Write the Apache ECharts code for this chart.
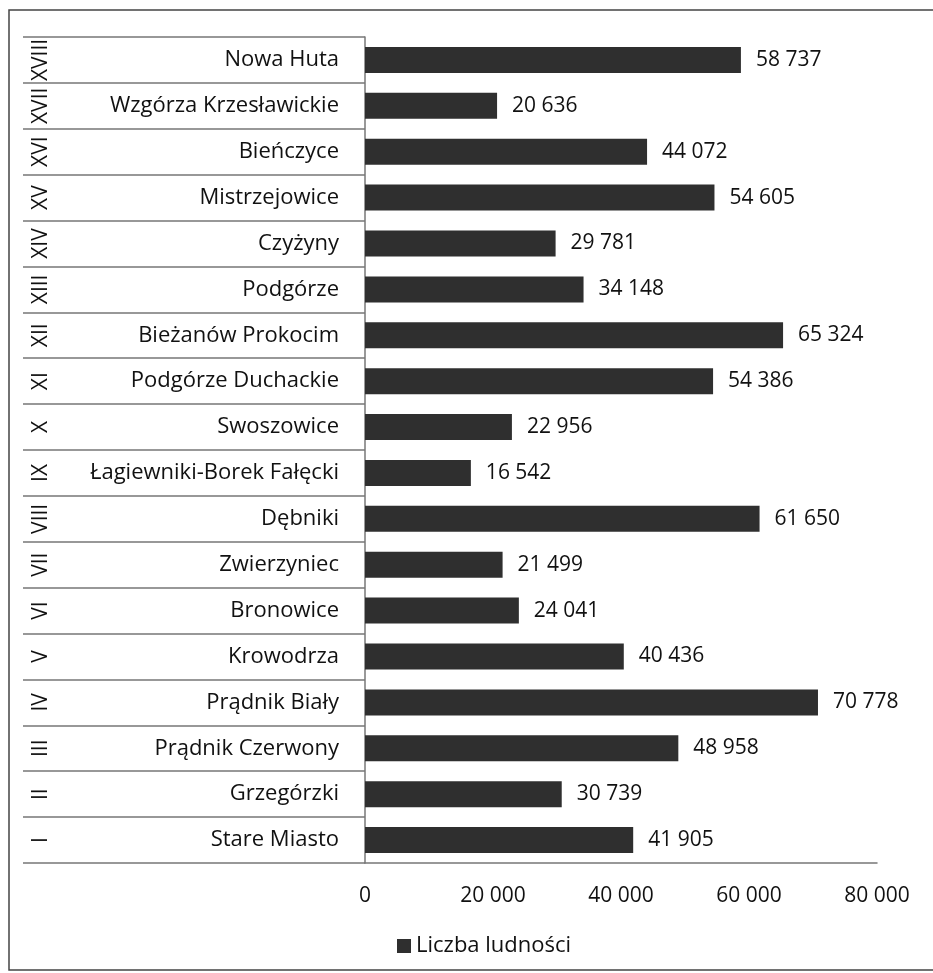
<!DOCTYPE html>
<html>
<head>
<meta charset="utf-8">
<script src="https://cdn.jsdelivr.net/npm/echarts@6/dist/echarts.min.js"></script>
<style>html,body{margin:0;padding:0;background:#fff}#c{width:933px;height:973px}</style>
</head>
<body>
<div id="c"></div>
<script>
const numerals = ['I','II','III','IV','V','VI','VII','VIII','IX','X','XI','XII','XIII','XIV','XV','XVI','XVII','XVIII'];
const districts = ['Stare Miasto','Grzegórzki','Prądnik Czerwony','Prądnik Biały','Krowodrza','Bronowice','Zwierzyniec','Dębniki','Łagiewniki-Borek Fałęcki','Swoszowice','Podgórze Duchackie','Bieżanów Prokocim','Podgórze','Czyżyny','Mistrzejowice','Bieńczyce','Wzgórza Krzesławickie','Nowa Huta'];
const population = [41905,30739,48958,70778,40436,24041,21499,61650,16542,22956,54386,65324,34148,29781,54605,44072,20636,58737];
const xTicks = {min:0, max:80000, interval:20000};
const seriesName = 'Liczba ludności';

function fmt(v){ return String(v).replace(/\B(?=(\d{3})+(?!\d))/g,' '); }

const FONT = 'Open Sans';
const FS = 21;
const chart = echarts.init(document.getElementById('c'));
chart.setOption({
  animation:false,
  textStyle:{fontFamily:FONT},
  graphic:[{type:'rect',shape:{x:9,y:10,width:940,height:960},style:{fill:'none',stroke:'#444',lineWidth:1.5},silent:true}],
  grid:{left:365,right:56,top:37,bottom:110,containLabel:false},
  legend:{top:930,left:392,icon:'rect',itemWidth:14,itemHeight:14,itemGap:6,
    textStyle:{fontSize:22,color:'#111',fontFamily:FONT},data:[seriesName]},
  xAxis:{type:'value',min:xTicks.min,max:xTicks.max,interval:xTicks.interval,
    axisLine:{show:true,lineStyle:{color:'#777',width:1.5}},
    axisTick:{show:false},splitLine:{show:false},
    axisLabel:{margin:23,fontSize:FS,color:'#111',formatter:fmt}},
  yAxis:[{type:'category',data:districts,position:'left',
    axisLine:{show:true,lineStyle:{color:'#777',width:1.5}},
    axisTick:{show:true,interval:0,length:342,lineStyle:{color:'#777',width:1.5}},
    axisLabel:{interval:0,margin:26,fontSize:22,color:'#111'}},
   {type:'category',data:numerals,position:'left',offset:324,
    axisLine:{show:false},axisTick:{show:false},
    axisLabel:{interval:0,margin:0,rotate:90,align:'center',verticalAlign:'middle',fontSize:FS,color:'#111'}}],
  series:[{name:seriesName,type:'bar',data:population,yAxisIndex:0,barWidth:26,
    itemStyle:{color:'#2f2f2f'},
    label:{show:true,position:'right',distance:15,fontSize:FS,color:'#111',
      formatter:p=>fmt(p.value)}}]
});
</script>
</body>
</html>
